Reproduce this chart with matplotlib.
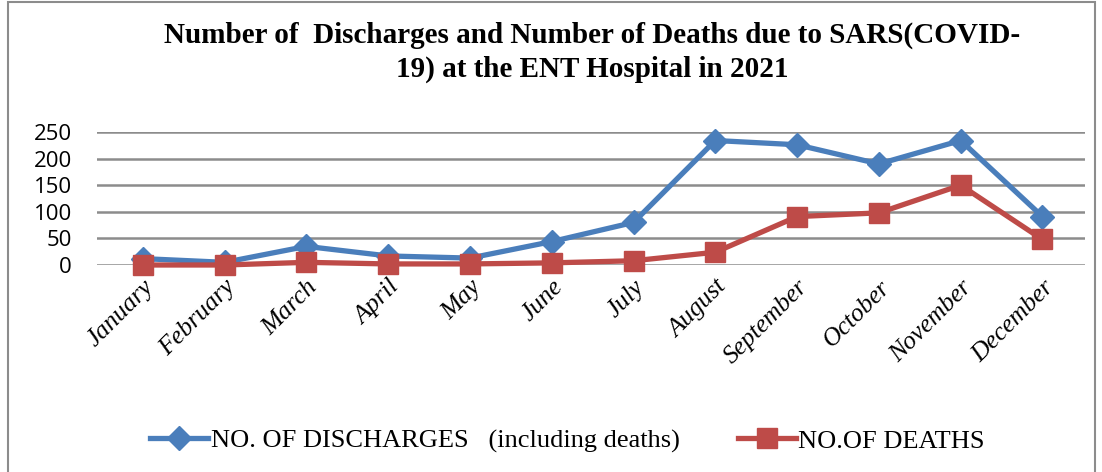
import matplotlib
matplotlib.use("Agg")
import matplotlib.pyplot as plt
from matplotlib.patches import Rectangle
from matplotlib.lines import Line2D

months = ["January", "February", "March", "April", "May", "June", "July",
          "August", "September", "October", "November", "December"]
discharges = [12, 5, 35, 17, 13, 44, 80, 234, 226, 190, 234, 91]
deaths = [0, 0, 5, 2, 2, 4, 8, 24, 91, 98, 150, 48]
yticks = [0, 50, 100, 150, 200, 250]

W, H = 1102, 472
fig = plt.figure(figsize=(W / 100, H / 100), dpi=100)
ax = fig.add_axes([97 / W, 1 - 265 / H, (1085 - 97) / W, (265 - 132) / H])

blue = "#4A7EBB"
red = "#BE4B48"
x = list(range(len(months)))
ax.plot(x, discharges, color=blue, lw=3.8, marker="D", ms=12, zorder=3,
        clip_on=False)
ax.plot(x, deaths, color=red, lw=3.8, marker="s", ms=14.5, zorder=4,
        clip_on=False)

ax.set_ylim(0, 250)
ax.set_xlim(-0.56, 11.52)
ax.set_yticks(yticks)
ax.set_yticklabels([str(v) for v in yticks], fontfamily="Open Sans", fontsize=16)
ax.yaxis.grid(True, color="#8C8C8C", lw=1.8)
ax.set_axisbelow(True)
ax.tick_params(axis="y", length=0, pad=18)
ax.tick_params(axis="x", length=0, pad=8)
ax.set_xticks(x)
ax.set_xticklabels(months, rotation=45, ha="right", rotation_mode="anchor",
                   fontfamily="Liberation Serif", fontstyle="italic", fontsize=18.5)
for s in ax.spines.values():
    s.set_visible(False)

fig.text(0.537, 1 - 35 / H,
         "Number of  Discharges and Number of Deaths due to SARS(COVID-",
         ha="center", va="center", fontfamily="Liberation Serif",
         fontweight="bold", fontsize=21)
fig.text(0.537, 1 - 69 / H, "19) at the ENT Hospital in 2021",
         ha="center", va="center", fontfamily="Liberation Serif",
         fontweight="bold", fontsize=21)

h1 = Line2D([], [], color=blue, lw=3.8, marker="D", ms=12)
h2 = Line2D([], [], color=red, lw=3.8, marker="s", ms=14.5)
fig.legend([h1, h2], ["NO. OF DISCHARGES   (including deaths)", "NO.OF DEATHS"],
           loc="center", bbox_to_anchor=(0.515, 1 - 441 / H), ncol=2,
           frameon=False, prop={"family": "Liberation Serif", "size": 19},
           handlelength=2.2, handletextpad=0.1, columnspacing=2.2)

fig.add_artist(Rectangle((8 / W, -0.01), (1095 - 8) / W, 1 - 2 / H + 0.01,
                         transform=fig.transFigure, fill=False,
                         edgecolor="#8C8C8C", lw=1.5))

fig.savefig("out.png", dpi=100)
